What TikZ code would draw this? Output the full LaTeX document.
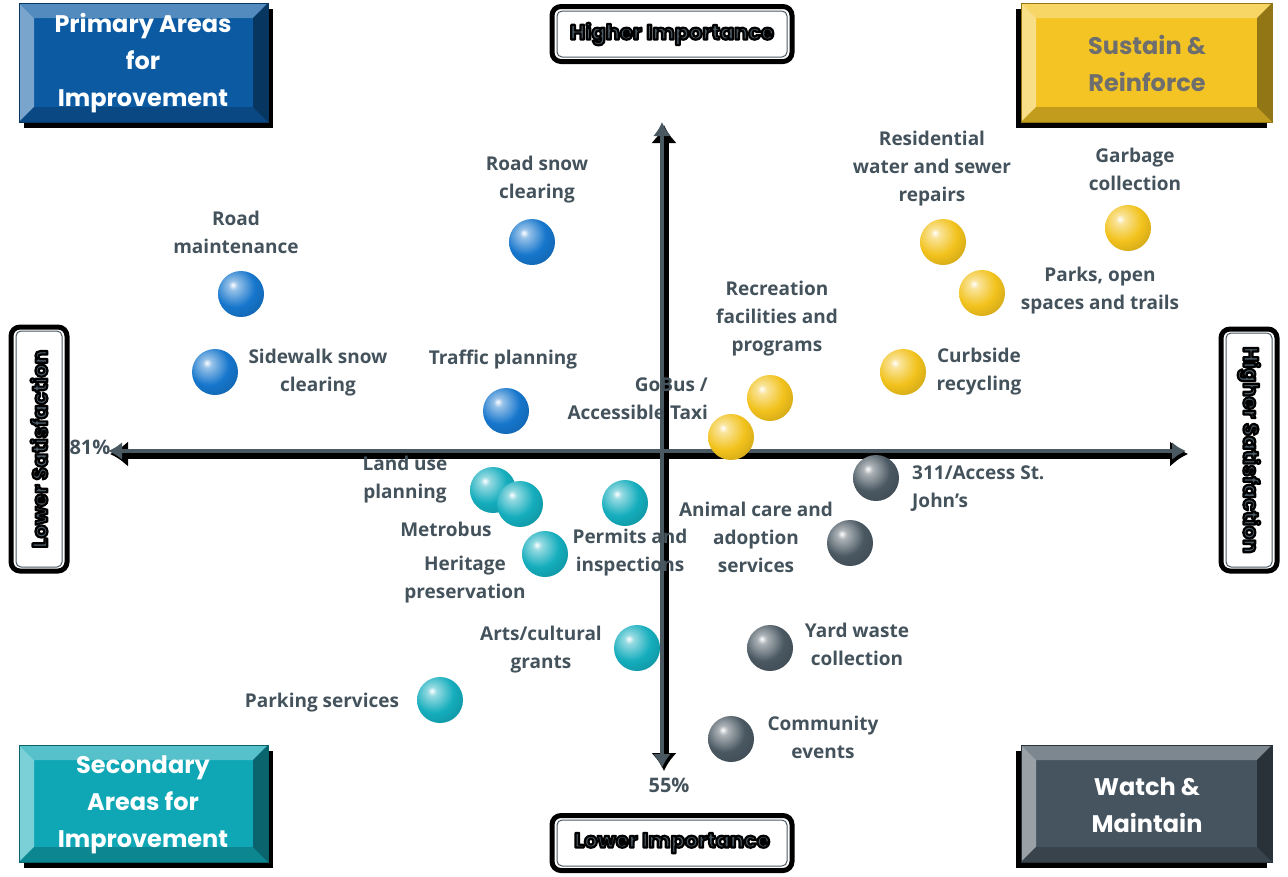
\documentclass[tikz,border=0pt]{standalone}
\usepackage{fontspec}
\setmainfont{Open Sans}
\newfontfamily\quadfont{Poppins}
\usepackage{tikz}
\usetikzlibrary{arrows.meta,shadings}

\definecolor{labelgray}{HTML}{44525C}
\definecolor{axisgray}{HTML}{4A5862}
\definecolor{primblue}{HTML}{0B5AA2}
\definecolor{sustyellow}{HTML}{F3C424}
\definecolor{secteal}{HTML}{0FA7B5}
\definecolor{watchslate}{HTML}{46545F}
\definecolor{reinfgray}{HTML}{6E6E6E}
\definecolor{ballblue}{HTML}{1676CC}
\definecolor{ballyellow}{HTML}{F2C21C}
\definecolor{ballteal}{HTML}{14ADBD}
\definecolor{ballslate}{HTML}{4A5862}

% outlined text (fill + black stroke)
\newcommand{\outlined}[1]{\special{pdf:literal direct 0 0 0 RG 2.2 w 1 j 2 Tr}#1\special{pdf:literal direct 0 Tr}}

% sphere shadings
\newcommand{\sphereshading}[2]{%
  \pgfdeclareradialshading{#1}{\pgfpoint{-9bp}{10bp}}{%
    color(0bp)=(white); color(5bp)=(#2!45!white); color(22bp)=(#2);
    color(42bp)=(#2!80!black); color(60bp)=(#2!55!black); color(100bp)=(#2!55!black)}}
\sphereshading{bluesphere}{ballblue}
\sphereshading{yellowsphere}{ballyellow}
\sphereshading{tealsphere}{ballteal}
\sphereshading{slatesphere}{ballslate}

% bevelled quadrant box: x1, y1, x2, y2, colour, shadow shift
\newcommand{\bevelbox}[6]{%
  \fill[black] ({#1+(#6)},{#2+6}) rectangle ({#3+(#6)},{#4+6});
  \fill[#5] (#1,#2) rectangle (#3,#4);
  \fill[#5!70!white] (#1,#2) -- (#3,#2) -- ({#3-15},{#2+15}) -- ({#1+15},{#2+15}) -- cycle;
  \fill[#5!55!white] (#1,#2) -- ({#1+15},{#2+15}) -- ({#1+15},{#4-15}) -- (#1,#4) -- cycle;
  \fill[#5!80!black] (#1,#4) -- ({#1+15},{#4-15}) -- ({#3-15},{#4-15}) -- (#3,#4) -- cycle;
  \fill[#5!60!black] (#3,#2) -- (#3,#4) -- ({#3-15},{#4-15}) -- ({#3-15},{#2+15}) -- cycle;
  \draw[#5!60!black, line width=1] (#1,#2) rectangle (#3,#4);
}

\tikzset{
    lbl/.style={font=\bfseries\fontsize{19}{28}\selectfont, text=labelgray, align=center, inner sep=0},
    quadtext/.style={font=\quadfont\bfseries\fontsize{24}{37}\selectfont, align=center, inner sep=0},
    axisbox/.style={draw=black, line width=5, rounded corners=9, fill=white},
    axistext/.style={font=\quadfont\bfseries\fontsize{21}{24}\selectfont, text=axisgray, inner sep=0},
    pct/.style={font=\bfseries\fontsize{20}{22}\selectfont, text=labelgray, inner sep=0},
    % balls
    ball/.style={circle, minimum size=46, inner sep=0},
    bball/.style={ball, shading=bluesphere},
    yball/.style={ball, shading=yellowsphere},
    tball/.style={ball, shading=tealsphere},
    sball/.style={ball, shading=slatesphere}
}

\begin{document}
\begin{tikzpicture}[x=1pt,y=-1pt]
\useasboundingbox (0,0) rectangle (1288,876);

% Quadrant boxes
\bevelbox{19}{3}{268}{122}{primblue}{5}
\bevelbox{1021}{3}{1272}{122}{sustyellow}{-5}
\bevelbox{19}{745}{268}{862}{secteal}{5}
\bevelbox{1021}{745}{1272}{862}{watchslate}{-5}
\node[quadtext, text=white] (primary) at (143,63) {Primary Areas\\for\\Improvement};
\node[quadtext, text=reinfgray] (sustain) at (1147,63) {Sustain \&\\Reinforce};
\node[quadtext, text=white] (secondary) at (143,805) {Secondary\\Areas for\\Improvement};
\node[quadtext, text=white] (watch) at (1147,805) {Watch \&\\Maintain};

% Axis label boxes
\node[axisbox, minimum width=240, minimum height=55] (hiimp) at (672,34) {};
\node[axisbox, minimum width=240, minimum height=55] (loimp) at (672,843) {};
\node[axisbox, minimum width=244, minimum height=56, rotate=90] (losat) at (39,449) {};
\node[axisbox, minimum width=242, minimum height=56, rotate=-90] (hisat) at (1249,450) {};
\draw[axisgray, line width=1, rounded corners=5] (557,11) rectangle (787,57);
\draw[axisgray, line width=1, rounded corners=5] (557,820) rectangle (787,866);
\draw[axisgray, line width=1, rounded corners=5] (16,331) rectangle (62,567);
\draw[axisgray, line width=1, rounded corners=5] (1226,333) rectangle (1272,567);
\node[axistext] at (hiimp) {\outlined{Higher Importance}};
\node[axistext] at (loimp) {\outlined{Lower Importance}};
\node[axistext, rotate=90] at (losat) {\outlined{Lower Satisfaction}};
\node[axistext, rotate=-90] at (hisat) {\outlined{Higher Satisfaction}};

% Axes
\coordinate (top) at (662,122);
\coordinate (bottom) at (662,768);
\coordinate (left) at (108,451);
\coordinate (right) at (1186,451);
\begin{scope}[transform canvas={shift={(2,3)}}]
\draw[black, line width=9, {Latex[length=18,width=26]}-{Latex[length=18,width=26]}] (top) -- (bottom);
\draw[black, line width=9, {Latex[length=18,width=26]}-{Latex[length=18,width=26]}] (left) -- (right);
\end{scope}
\draw[axisgray, line width=4, {Latex[length=14,width=18]}-{Latex[length=14,width=18]}] (top) -- (bottom);
\draw[axisgray, line width=4, {Latex[length=14,width=18]}-{Latex[length=14,width=18]}] (left) -- (right);
\node[pct] (p81) at (90,447) {81\%};
\node[pct] (p55) at (669,785) {55\%};

% Primary areas (blue)
\node[bball] (snow) at (532,242) {};
\node[bball] (roadm) at (241,294) {};
\node[bball] (sidewalk) at (215,372) {};
\node[bball] (traffic) at (506,411) {};
\node[lbl] at (537,180) {Road snow\\clearing};
\node[lbl] at (236,232) {Road\\maintenance};
\node[lbl] at (318,373) {Sidewalk snow\\clearing};
\node[lbl] at (503,360) {Traffic planning};

% Sustain & reinforce (yellow)
\node[yball] (water) at (943,242) {};
\node[yball] (garbage) at (1128,228) {};
\node[yball] (parks) at (982,293) {};
\node[yball] (curbside) at (903,372) {};
\node[yball] (recreation) at (770,398) {};
\node[yball] (gobus) at (731,437) {};
\node[lbl] at (932,169) {Residential\\water and sewer\\repairs};
\node[lbl] at (1135,169) {Garbage\\collection};
\node[lbl] at (1100,291) {Parks, open\\spaces and trails};
\node[lbl] at (979,372) {Curbside\\recycling};
\node[lbl] at (777,319) {Recreation\\facilities and\\programs};
\node[lbl, align=right, anchor=east] at (708,399) {GoBus /\\Accessible Taxi};

% Secondary areas (teal)
\node[tball] (landuse) at (493,490) {};
\node[tball] (metrobus) at (520,504) {};
\node[tball] (permits) at (625,503) {};
\node[tball] (heritage) at (545,554) {};
\node[tball] (arts) at (637,648) {};
\node[tball] (parking) at (440,700) {};
\node[lbl] at (405,480) {Land use\\planning};
\node[lbl] at (446,529) {Metrobus};
\node[lbl] at (630,553) {Permits and\\inspections};
\node[lbl] at (465,580) {Heritage\\preservation};
\node[lbl] at (541,650) {Arts/cultural\\grants};
\node[lbl] at (322,703) {Parking services};

% Watch & maintain (slate)
\node[sball] (access) at (876,478) {};
\node[sball] (animal) at (850,543) {};
\node[sball] (yard) at (770,648) {};
\node[sball] (community) at (731,739) {};
\node[lbl, align=left, anchor=west] at (912,489) {311/Access St.\\John's};
\node[lbl] at (756,537) {Animal care and\\adoption\\services};
\node[lbl] at (857,644) {Yard waste\\collection};
\node[lbl] at (823,737) {Community\\events};
\end{tikzpicture}
\end{document}
